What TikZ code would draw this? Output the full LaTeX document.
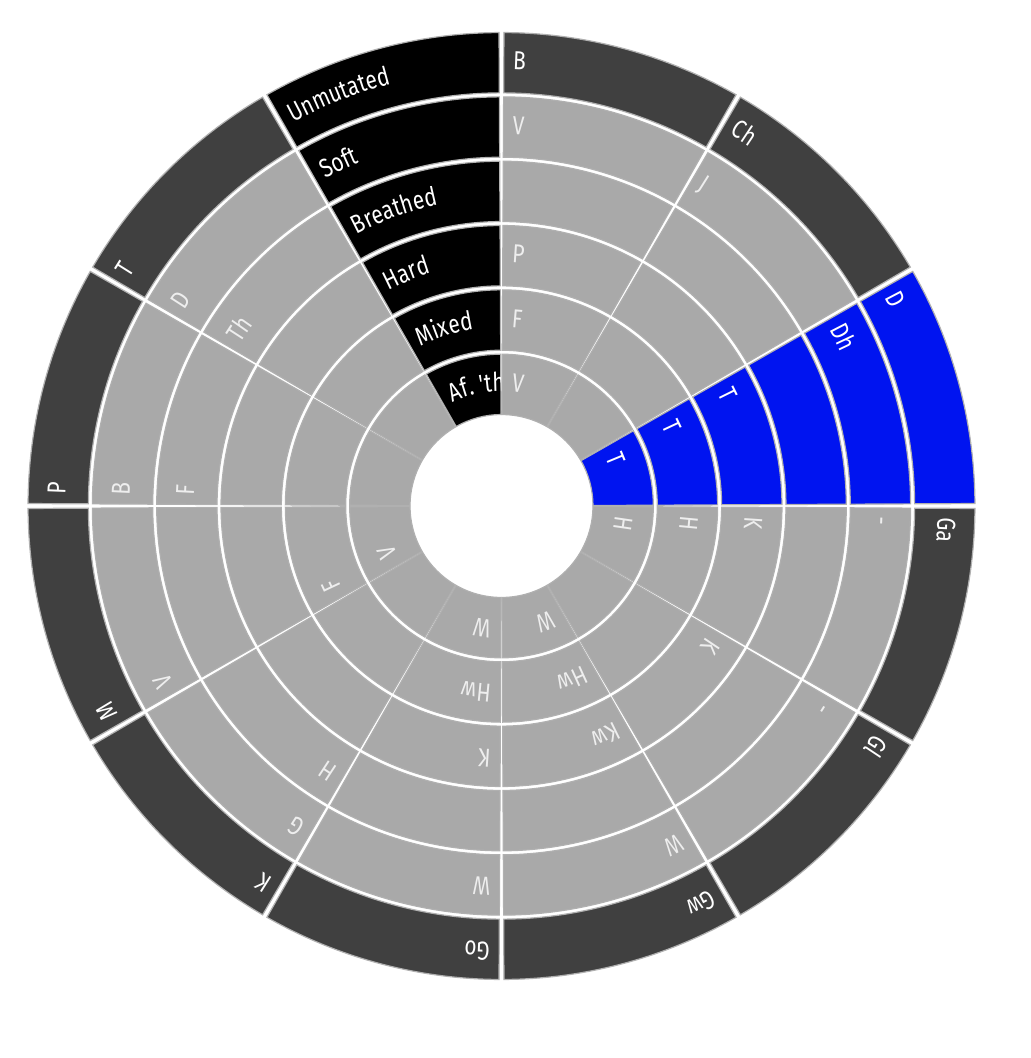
\documentclass[tikz,border=0pt]{standalone}
\usepackage{fontspec}
\newfontfamily\lblfont{Fira Sans}[FakeStretch=0.8]
\usepackage{xcolor}
\definecolor{RimGray}{HTML}{404040}
\definecolor{CellGray}{HTML}{A9A9A9}
\definecolor{EdgeGray}{HTML}{B0B0B0}
\definecolor{MutBlue}{HTML}{0014F0}
\definecolor{LetterGray}{HTML}{EEEEEE}
\usepackage{tikz}
\usetikzlibrary{decorations.text}

\newcommand{\wheelfont}{\lblfont\fontsize{19.5pt}{21pt}\selectfont}
% one cell: start angle, ring (1 inside ... 6 rim), fill
\newcommand{\wheelcell}[3]{%
  \pgfmathsetmacro{\cin}{91.5+64.33*(#2-1)}%
  \pgfmathsetmacro{\cout}{87.5+64.33*#2}%
  \pgfmathsetmacro{\cbeg}{#1-0.3}%
  \pgfmathsetmacro{\cend}{#1-29.7}%
  \draw[cell,fill=#3] (\cbeg:\cout) arc[start angle=\cbeg,end angle=\cend,radius=\cout]
    -- (\cend:\cin) arc[start angle=\cend,end angle=\cbeg,radius=\cin] -- cycle;}
% one label: start angle, ring, text, colour
\newcommand{\wheellabel}[4]{%
  \pgfmathsetmacro{\lblr}{89.5+64.33*(#2-0.5)-7}%
  \pgfmathsetmacro{\lblbeg}{#1-0.3-9/\lblr*57.3}%
  \pgfmathsetmacro{\lblend}{#1-45}%
  \path[lbl={|\wheelfont\color{#4}|#3}] (\lblbeg:\lblr) arc[start angle=\lblbeg,end angle=\lblend,radius=\lblr];}

\begin{document}
\begin{tikzpicture}[x=0.75pt,y=0.75pt,
  cell/.style={draw=EdgeGray,line width=0.9pt},
  lbl/.style={decorate,decoration={text along path,text align=left,text={#1}}}
]
  \fill[white] (-501.5,-552) rectangle (529.5,506);
  \useasboundingbox (-501.5,-552) rectangle (529.5,506);

  % grey body and dark rim
  \foreach \ang in {90,60,0,-30,-60,-90,-120,-150,-180,-210} {
    \foreach \rng in {1,...,5} {\wheelcell{\ang}{\rng}{CellGray}}
    \wheelcell{\ang}{6}{RimGray}
  }
  % highlighted D and the row names
  \foreach \rng in {1,...,6} {\wheelcell{30}{\rng}{MutBlue}}
  \foreach \rng in {1,...,6} {\wheelcell{120}{\rng}{black}}

  % rim letters
  \foreach \ang/\txt in {90/B,60/Ch,30/D,0/Ga,-30/Gl,-60/Gw,-90/Go,-120/K,-150/M,-180/P,-210/T}
    {\wheellabel{\ang}{6}{\txt}{white}}
  % mutated forms
  \foreach \ang/\rng/\txt in {90/5/V,90/3/P,90/2/F,90/1/V,60/5/J,0/5/-,0/3/K,0/2/H,0/1/H,
      -30/5/-,-30/3/K,-60/5/W,-60/3/Kw,-60/2/Hw,-60/1/W,-90/5/W,-90/3/K,-90/2/Hw,-90/1/W,
      -120/5/G,-120/4/H,-150/5/V,-150/2/F,-150/1/V,-180/5/B,-180/4/F,-210/5/D,-210/4/Th}
    {\wheellabel{\ang}{\rng}{\txt}{LetterGray}}
  \foreach \rng/\txt in {5/Dh,3/T,2/T,1/T}
    {\wheellabel{30}{\rng}{\txt}{white}}

  % row names, cut at the column edge
  \begin{scope}
    \clip (0,0) -- (119.7:480) arc[start angle=119.7,end angle=90.3,radius=480] -- cycle;
    \foreach \rng/\txt in {6/Unmutated,5/Soft,4/Breathed,3/Hard,2/Mixed,1/{Af. 'th}}
      {\wheellabel{120}{\rng}{\txt}{white}}
  \end{scope}
\end{tikzpicture}
\end{document}
